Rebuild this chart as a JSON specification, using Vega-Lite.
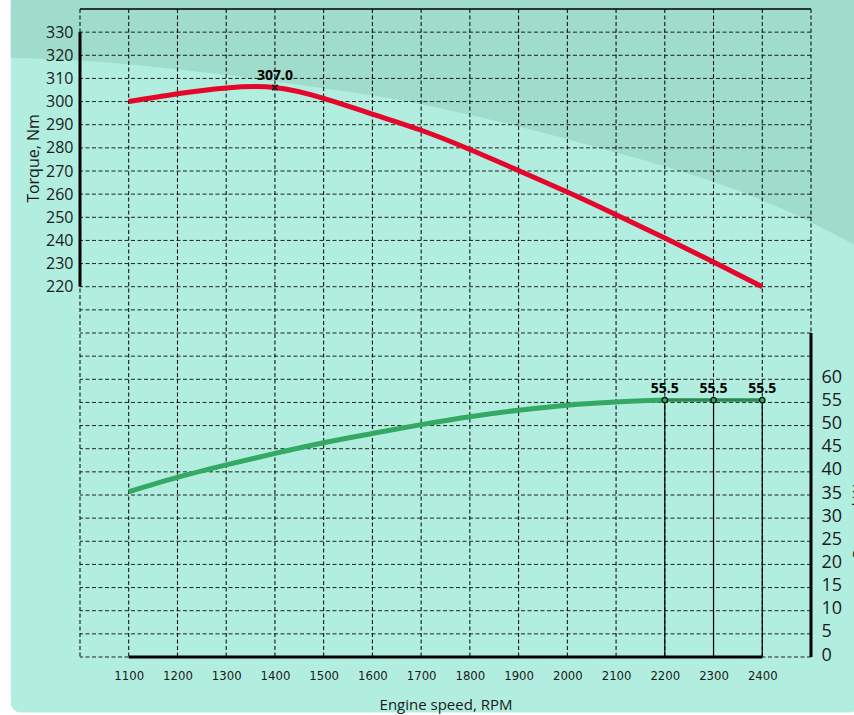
{
  "$schema": "https://vega.github.io/schema/vega-lite/v6.json",
  "width": 731,
  "height": 648,
  "autosize": {"type": "none"},
  "padding": {"left": 80, "top": 9, "right": 43, "bottom": 58},
  "background": "#ffffff",
  "config": {"view": {"stroke": null}, "font": "Open Sans"},
  "datasets": {
    "torque": [
      {"rpm": 1100, "torque": 300.0},
      {"rpm": 1200, "torque": 303.4},
      {"rpm": 1300, "torque": 305.9},
      {"rpm": 1400, "torque": 306.1},
      {"rpm": 1500, "torque": 301.4},
      {"rpm": 1600, "torque": 294.6},
      {"rpm": 1700, "torque": 287.6},
      {"rpm": 1800, "torque": 279.3},
      {"rpm": 1900, "torque": 270.2},
      {"rpm": 2000, "torque": 260.9},
      {"rpm": 2100, "torque": 251.1},
      {"rpm": 2200, "torque": 241.0},
      {"rpm": 2300, "torque": 230.7},
      {"rpm": 2400, "torque": 220.0}
    ],
    "power": [
      {"rpm": 1100, "power": 35.7},
      {"rpm": 1200, "power": 38.8},
      {"rpm": 1300, "power": 41.5},
      {"rpm": 1400, "power": 44.0},
      {"rpm": 1500, "power": 46.3},
      {"rpm": 1600, "power": 48.3},
      {"rpm": 1700, "power": 50.2},
      {"rpm": 1800, "power": 51.9},
      {"rpm": 1900, "power": 53.3},
      {"rpm": 2000, "power": 54.4},
      {"rpm": 2100, "power": 55.1},
      {"rpm": 2200, "power": 55.5}
    ],
    "powerMax": [
      {"rpm": 2200, "power": 55.5, "base": 0, "label": "55.5"},
      {"rpm": 2300, "power": 55.5, "base": 0, "label": "55.5"},
      {"rpm": 2400, "power": 55.5, "base": 0, "label": "55.5"}
    ],
    "torquePeak": [{"rpm": 1400, "torque": 306.1, "label": "307.0"}],
    "shade": [
      {"rpm": 858, "torque": 318.9, "top": 346},
      {"rpm": 1041, "torque": 317.1, "top": 346},
      {"rpm": 1246, "torque": 312.8, "top": 346},
      {"rpm": 1451, "torque": 307.2, "top": 346},
      {"rpm": 1656, "torque": 300.7, "top": 346},
      {"rpm": 1902, "torque": 289.1, "top": 346},
      {"rpm": 2101, "torque": 277.9, "top": 346},
      {"rpm": 2204, "torque": 271.8, "top": 346},
      {"rpm": 2476, "torque": 250.3, "top": 346},
      {"rpm": 2600, "torque": 236.8, "top": 346}
    ],
    "gridx": [
      {"rpm": 1000}, {"rpm": 1100}, {"rpm": 1200}, {"rpm": 1300}, {"rpm": 1400}, {"rpm": 1500},
      {"rpm": 1600}, {"rpm": 1700}, {"rpm": 1800}, {"rpm": 1900}, {"rpm": 2000}, {"rpm": 2100},
      {"rpm": 2200}, {"rpm": 2300}, {"rpm": 2400}, {"rpm": 2500}
    ],
    "gridy": [
      {"torque": 60}, {"torque": 70}, {"torque": 80}, {"torque": 90}, {"torque": 100}, {"torque": 110},
      {"torque": 120}, {"torque": 130}, {"torque": 140}, {"torque": 150}, {"torque": 160}, {"torque": 170},
      {"torque": 180}, {"torque": 190}, {"torque": 200}, {"torque": 210}, {"torque": 220}, {"torque": 230},
      {"torque": 240}, {"torque": 250}, {"torque": 260}, {"torque": 270}, {"torque": 280}, {"torque": 290},
      {"torque": 300}, {"torque": 310}, {"torque": 320}, {"torque": 330}
    ],
    "panel": [{"rpmFrom": 858, "rpmTo": 2600, "torqueFrom": 36, "torqueTo": 346}],
    "frameTop": [{"torque": 340}],
    "torqueAxisLine": [{"rpm": 1000, "from": 220, "to": 330}],
    "powerAxisLine": [{"rpm": 2500, "from": 0, "to": 70}],
    "speedAxisLine": [{"power": 0, "from": 1100, "to": 2400}]
  },
  "layer": [
    {
      "data": {"name": "panel"},
      "mark": {"type": "rect", "color": "#b2eedf", "cornerRadius": 10},
      "encoding": {
        "x": {"field": "rpmFrom", "type": "quantitative", "scale": {"domain": [1000, 2500], "nice": false, "zero": false}},
        "x2": {"field": "rpmTo"},
        "y": {"field": "torqueFrom", "type": "quantitative", "scale": {"domain": [60, 340], "nice": false, "zero": false}, "axis": null},
        "y2": {"field": "torqueTo"}
      }
    },
    {
      "data": {"name": "shade"},
      "mark": {"type": "area", "color": "#9fdccb", "interpolate": "monotone"},
      "encoding": {
        "x": {"field": "rpm", "type": "quantitative", "scale": {"domain": [1000, 2500], "nice": false, "zero": false}},
        "y": {"field": "torque", "type": "quantitative", "scale": {"domain": [60, 340], "nice": false, "zero": false}, "axis": null},
        "y2": {"field": "top"}
      }
    },
    {
      "data": {"name": "gridx"},
      "mark": {"type": "rule", "color": "#000000", "strokeWidth": 1, "strokeDash": [4, 2.5]},
      "encoding": {
        "x": {"field": "rpm", "type": "quantitative", "scale": {"domain": [1000, 2500], "nice": false, "zero": false}}
      }
    },
    {
      "data": {"name": "gridy"},
      "mark": {"type": "rule", "color": "#000000", "strokeWidth": 1, "strokeDash": [4, 2.5], "opacity": 0.85},
      "encoding": {
        "y": {"field": "torque", "type": "quantitative", "scale": {"domain": [60, 340], "nice": false, "zero": false}, "axis": null}
      }
    },
    {
      "data": {"name": "frameTop"},
      "mark": {"type": "rule", "color": "#000000", "strokeWidth": 1.5},
      "encoding": {
        "y": {"field": "torque", "type": "quantitative", "scale": {"domain": [60, 340], "nice": false, "zero": false}, "axis": null}
      }
    },
    {
      "data": {"name": "torqueAxisLine"},
      "mark": {"type": "rule", "color": "#000000", "strokeWidth": 3},
      "encoding": {
        "x": {"field": "rpm", "type": "quantitative", "scale": {"domain": [1000, 2500], "nice": false, "zero": false}},
        "y": {"field": "from", "type": "quantitative", "scale": {"domain": [60, 340], "nice": false, "zero": false}, "axis": null},
        "y2": {"field": "to"}
      }
    },
    {
      "data": {"name": "torque"},
      "mark": {"type": "line", "color": "#e4062b", "strokeWidth": 5, "interpolate": "natural", "strokeCap": "butt"},
      "encoding": {
        "x": {
          "field": "rpm", "type": "quantitative",
          "scale": {"domain": [1000, 2500], "nice": false, "zero": false},
          "axis": {
            "orient": "bottom", "zindex": 2, "format": "d",
            "values": [1100, 1200, 1300, 1400, 1500, 1600, 1700, 1800, 1900, 2000, 2100, 2200, 2300, 2400],
            "grid": false, "ticks": false, "domain": false,
            "labelFont": "Liberation Sans Narrow, DejaVu Sans Condensed, Open Sans", "labelFontSize": 13, "labelColor": "#1a1a1a",
            "labelPadding": 12,
            "title": "Engine speed, RPM",
            "titleFont": "Open Sans", "titleFontSize": 15, "titleFontWeight": 500, "titleColor": "#1a1a1a",
            "titleY": 47, "titleBaseline": "middle"
          }
        },
        "y": {
          "field": "torque", "type": "quantitative",
          "scale": {"domain": [60, 340], "nice": false, "zero": false},
          "axis": {
            "orient": "left", "zindex": 2,
            "values": [220, 230, 240, 250, 260, 270, 280, 290, 300, 310, 320, 330],
            "grid": false, "ticks": false, "domain": false,
            "labelFont": "Open Sans", "labelFontSize": 16, "labelColor": "#1a1a1a",
            "labelPadding": 7,
            "title": "Torque,  Nm",
            "titleFont": "Open Sans", "titleFontSize": 16, "titleFontWeight": 500, "titleColor": "#1a1a1a",
            "titleAngle": -90, "titleX": -47, "titleY": 149,
            "titleAlign": "center", "titleBaseline": "middle"
          }
        }
      }
    },
    {
      "data": {"name": "torquePeak"},
      "mark": {"type": "point", "shape": "M-1,-1L1,1M-1,1L1,-1", "size": 30, "filled": false, "stroke": "#000000", "strokeWidth": 1.3, "opacity": 1},
      "encoding": {
        "x": {"field": "rpm", "type": "quantitative", "scale": {"domain": [1000, 2500], "nice": false, "zero": false}},
        "y": {"field": "torque", "type": "quantitative", "scale": {"domain": [60, 340], "nice": false, "zero": false}, "axis": null}
      }
    },
    {
      "data": {"name": "torquePeak"},
      "mark": {"type": "text", "font": "Open Sans", "fontSize": 14, "fontWeight": "bold", "color": "#000000", "baseline": "alphabetic", "dy": -7},
      "encoding": {
        "x": {"field": "rpm", "type": "quantitative", "scale": {"domain": [1000, 2500], "nice": false, "zero": false}},
        "y": {"field": "torque", "type": "quantitative", "scale": {"domain": [60, 340], "nice": false, "zero": false}, "axis": null},
        "text": {"field": "label", "type": "nominal"}
      }
    },
    {
      "data": {"name": "power"},
      "mark": {"type": "line", "color": "#34a865", "strokeWidth": 5, "interpolate": "monotone", "strokeCap": "butt"},
      "encoding": {
        "x": {"field": "rpm", "type": "quantitative", "scale": {"domain": [1000, 2500], "nice": false, "zero": false}},
        "y": {
          "field": "power", "type": "quantitative",
          "scale": {"domain": [0, 140], "nice": false, "zero": false},
          "axis": {
            "orient": "right", "zindex": 2,
            "values": [0, 5, 10, 15, 20, 25, 30, 35, 40, 45, 50, 55, 60],
            "grid": false, "ticks": false, "domain": false,
            "labelFont": "Open Sans", "labelFontSize": 18, "labelColor": "#1a1a1a",
            "labelPadding": 10, "labelOffset": -2,
            "title": "Power, kW",
            "titleFont": "Open Sans", "titleFontSize": 15, "titleFontWeight": 500, "titleColor": "#1a1a1a",
            "titleAngle": -90, "titleX": 46, "titleY": 512,
            "titleAlign": "center", "titleBaseline": "middle"
          }
        }
      }
    },
    {
      "data": {"name": "powerMax"},
      "mark": {"type": "line", "color": "#2a8a50", "strokeWidth": 3.5},
      "encoding": {
        "x": {"field": "rpm", "type": "quantitative", "scale": {"domain": [1000, 2500], "nice": false, "zero": false}},
        "y": {"field": "power", "type": "quantitative", "scale": {"domain": [0, 140], "nice": false, "zero": false}, "axis": null}
      }
    },
    {
      "data": {"name": "powerMax"},
      "mark": {"type": "rule", "color": "#000000", "strokeWidth": 1.2},
      "encoding": {
        "x": {"field": "rpm", "type": "quantitative", "scale": {"domain": [1000, 2500], "nice": false, "zero": false}},
        "y": {"field": "base", "type": "quantitative", "scale": {"domain": [0, 140], "nice": false, "zero": false}, "axis": null},
        "y2": {"field": "power"}
      }
    },
    {
      "data": {"name": "powerMax"},
      "mark": {"type": "point", "shape": "circle", "size": 30, "filled": true, "fill": "#34a865", "stroke": "#000000", "strokeWidth": 1.2, "opacity": 1},
      "encoding": {
        "x": {"field": "rpm", "type": "quantitative", "scale": {"domain": [1000, 2500], "nice": false, "zero": false}},
        "y": {"field": "power", "type": "quantitative", "scale": {"domain": [0, 140], "nice": false, "zero": false}, "axis": null}
      }
    },
    {
      "data": {"name": "powerMax"},
      "mark": {"type": "text", "font": "Open Sans", "fontSize": 14, "fontWeight": "bold", "color": "#000000", "baseline": "alphabetic", "dy": -7},
      "encoding": {
        "x": {"field": "rpm", "type": "quantitative", "scale": {"domain": [1000, 2500], "nice": false, "zero": false}},
        "y": {"field": "power", "type": "quantitative", "scale": {"domain": [0, 140], "nice": false, "zero": false}, "axis": null},
        "text": {"field": "label", "type": "nominal"}
      }
    },
    {
      "data": {"name": "powerAxisLine"},
      "mark": {"type": "rule", "color": "#000000", "strokeWidth": 3},
      "encoding": {
        "x": {"field": "rpm", "type": "quantitative", "scale": {"domain": [1000, 2500], "nice": false, "zero": false}},
        "y": {"field": "from", "type": "quantitative", "scale": {"domain": [0, 140], "nice": false, "zero": false}, "axis": null},
        "y2": {"field": "to"}
      }
    },
    {
      "data": {"name": "speedAxisLine"},
      "mark": {"type": "rule", "color": "#000000", "strokeWidth": 3},
      "encoding": {
        "y": {"field": "power", "type": "quantitative", "scale": {"domain": [0, 140], "nice": false, "zero": false}, "axis": null},
        "x": {"field": "from", "type": "quantitative", "scale": {"domain": [1000, 2500], "nice": false, "zero": false}},
        "x2": {"field": "to"}
      }
    }
  ],
  "resolve": {"scale": {"y": "independent"}}
}
